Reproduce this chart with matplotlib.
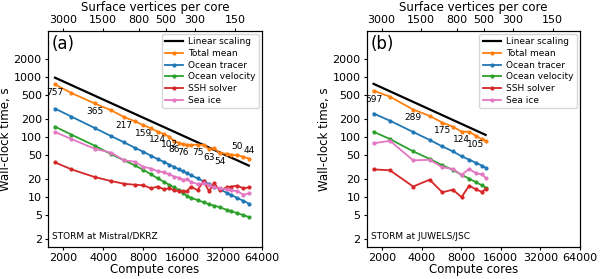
import matplotlib
matplotlib.use('Agg')
import matplotlib.pyplot as plt
from matplotlib.ticker import NullLocator

# Mistral / DKRZ
cores_a = [1728, 2304, 3456, 4608, 5760, 6912, 8064, 9216, 10368, 11520, 12672,
           13824, 14976, 16128, 17280, 18432, 20736, 23040, 25344, 27648, 30528,
           34560, 37440, 41472, 46080, 50688]
total_a = [757, 545, 365, 280, 217, 185, 159, 140, 124, 112, 102, 86, 80, 76, 75,
           74, 75, 74, 63, 66, 54, 53, 51, 50, 47, 44]
tracer_a = [300, 220, 142, 104, 82, 67, 57, 49, 43, 38.7, 34.9, 31.7, 29.1, 26.9,
            25, 23.3, 20.5, 18.3, 16.5, 15.0, 13.5, 11.8, 10.8, 9.7, 8.65, 7.8]
velocity_a = [150, 110, 72, 52, 41, 34, 28.5, 24, 20.5, 18, 16, 14.5, 13.2, 11.6,
              10.5, 9.8, 8.9, 8.2, 7.6, 7.2, 6.8, 6.1, 5.8, 5.4, 5.0, 4.65]
ssh_a = [38, 29, 21.6, 18.5, 16.7, 16.1, 15.7, 14, 15, 13.5, 14, 13, 12.5, 12.5,
         12.5, 15, 13, 18.5, 12.5, 17, 13, 14.5, 15, 15.5, 14, 14.5]
seaice_a = [122, 93, 64, 55, 41, 39, 32, 30, 27, 26, 24, 22, 21, 19.5, 20, 18,
            16.5, 17, 16, 14.5, 14, 13.5, 13, 12.5, 11, 11.5]
labels_a = [0, 2, 4, 6, 8, 10, 11, 13, 16, 18, 20, 23, 25]
above_a = [23, 25]

# JUWELS / JSC
cores_b = [1728, 2304, 3456, 4608, 5760, 6912, 8064, 9216, 10368, 11520, 12288]
total_b = [597, 474, 289, 227, 175, 150, 124, 123, 105, 92, 87]
tracer_b = [248, 188, 122, 90, 70, 58, 48, 42, 37.5, 33.5, 31]
velocity_b = [123, 93, 58, 43.5, 34, 28.5, 23.5, 20.3, 17.8, 15.7, 14.4]
ssh_b = [29, 28, 15, 19.5, 12, 13.3, 10, 15.5, 13.5, 12.2, 13.8]
seaice_b = [79, 87, 41, 42, 31.5, 29.5, 23.5, 29.5, 25, 24, 21]
labels_b = [0, 2, 4, 6, 8]
above_b = []

n_vertices = 5.97e6
top_ticks = [3000, 1500, 800, 500, 300, 150]
x_ticks = [2000, 4000, 8000, 16000, 32000, 64000]
y_ticks = [2, 5, 10, 20, 50, 100, 200, 500, 1000, 2000]

fig = plt.figure(figsize=(6, 2.79), dpi=100)


def panel(rect, cores, total, tracer, velocity, ssh, seaice, lab_idx, above, tag, site):
    ax = fig.add_axes(rect)
    linear = [1.3 * total[0] * cores[0] / c for c in cores]
    ax.plot(cores, linear, color='black', lw=1.6, label='Linear scaling')
    kw = dict(lw=1.3, marker='o', markersize=2)
    ax.plot(cores, total, color='tab:orange', label='Total mean', **kw)
    ax.plot(cores, tracer, color='tab:blue', label='Ocean tracer', **kw)
    ax.plot(cores, velocity, color='tab:green', label='Ocean velocity', **kw)
    ax.plot(cores, ssh, color='tab:red', label='SSH solver', **kw)
    ax.plot(cores, seaice, color='tab:pink', label='Sea ice', **kw)
    for i in lab_idx:
        dy = 6 if i in above else -6
        ax.annotate('%d' % total[i], (cores[i], total[i]), xytext=(0, dy),
                    textcoords='offset points', ha='center', va='center', fontsize=6.5)
    ax.set_xscale('log')
    ax.set_yscale('log')
    ax.set_xlim(1530, 64000)
    ax.set_ylim(1.47, 5900)
    ax.set_xticks(x_ticks, labels=[str(t) for t in x_ticks])
    ax.set_yticks(y_ticks, labels=[str(t) for t in y_ticks])
    ax.xaxis.set_minor_locator(NullLocator())
    ax.yaxis.set_minor_locator(NullLocator())
    ax.tick_params(labelsize=8, length=2.5, pad=2)
    ax.set_xlabel('Compute cores', fontsize=8.5, labelpad=0)
    ax.set_ylabel('Wall-clock time, s', fontsize=8.5, labelpad=1)
    ax.text(0.017, 0.94, tag, transform=ax.transAxes, fontsize=12, ha='left', va='center')
    ax.text(0.02, 0.05, site, transform=ax.transAxes, fontsize=6.5, ha='left', va='center')
    ax.legend(loc='upper right', fontsize=6.5, handlelength=2.0, handletextpad=0.6,
              borderpad=0.35, labelspacing=0.3, borderaxespad=0.35)

    # top axis: surface vertices per core
    ax2 = ax.twiny()
    ax2.set_xscale('log')
    ax2.set_xlim(ax.get_xlim())
    ax2.set_xticks([n_vertices / v for v in top_ticks], labels=[str(v) for v in top_ticks])
    ax2.xaxis.set_minor_locator(NullLocator())
    ax2.tick_params(labelsize=8, length=2.5, pad=1.5)
    ax2.set_xlabel('Surface vertices per core', fontsize=8.5, labelpad=3)
    return ax


panel([0.08, 0.1147, 0.357, 0.774], cores_a, total_a, tracer_a, velocity_a, ssh_a,
      seaice_a, labels_a, above_a, '(a)', 'STORM at Mistral/DKRZ')
panel([0.611, 0.1147, 0.3555, 0.774], cores_b, total_b, tracer_b, velocity_b, ssh_b,
      seaice_b, labels_b, above_b, '(b)', 'STORM at JUWELS/JSC')

plt.savefig('out.png', dpi=100)
